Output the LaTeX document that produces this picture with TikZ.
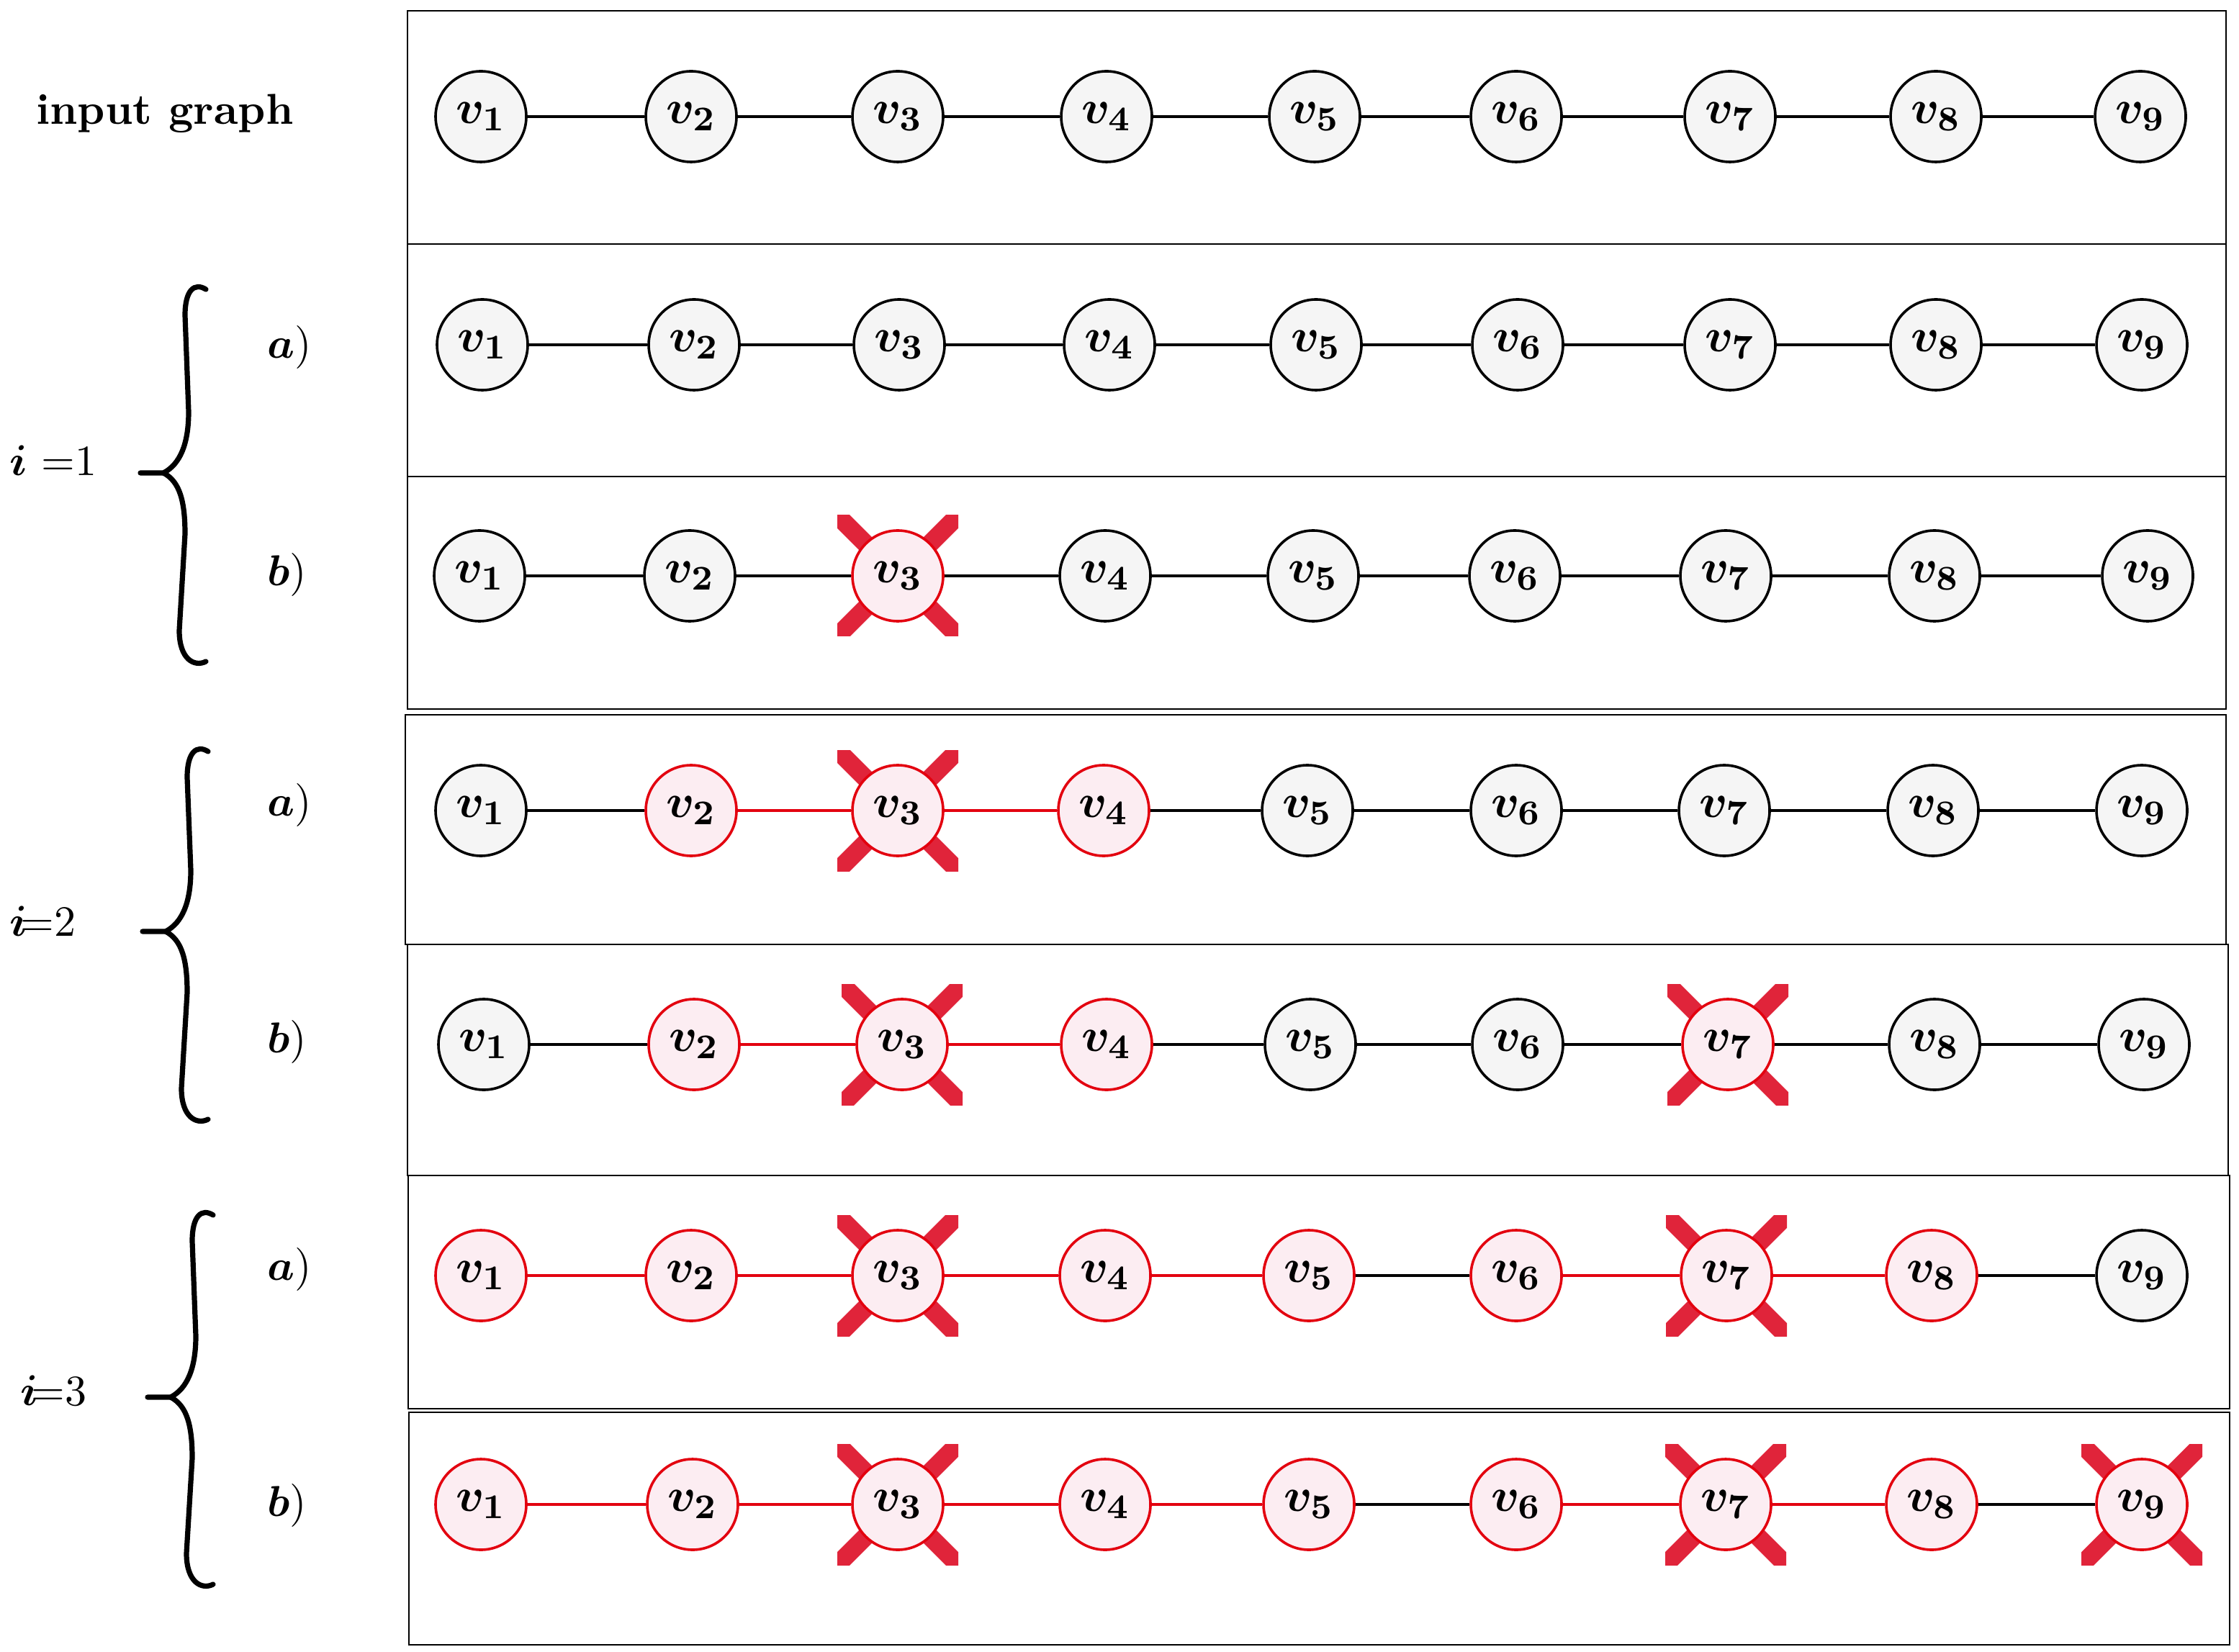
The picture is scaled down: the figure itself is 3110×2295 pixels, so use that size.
\documentclass[tikz,border=0pt]{standalone}
\usepackage{amsmath}
\usepackage{bm}
\usetikzlibrary{backgrounds}
\definecolor{fc0}{HTML}{F5F5F5}
\definecolor{fc1}{HTML}{FCEDF2}
\definecolor{lc0}{HTML}{000000}
\definecolor{lc1}{HTML}{E3000F}
\definecolor{crosscol}{HTML}{E0243A}
\newcommand\graphrow[3]{%
  \foreach \xx/\cc [count=\k] in {#3} {%
    \node[vert, draw=lc\cc, fill=fc\cc] (r#1n\k) at (\xx,#2) {$v_{\k}$};}}
\newcommand\edgerow[2]{%
  \foreach \cc [count=\k] in {#2} {%
    \pgfmathtruncatemacro\kk{\k+1}%
    \draw[edgeline, draw=lc\cc] (r#1n\k) -- (r#1n\kk);}}
\newcommand\xmark[1]{%
  \begin{scope}[shift={(#1.center)}]
    \clip (-84,-84) rectangle (84,84);
    \draw[crossbar] (-95,-95) -- (95,95) (-95,95) -- (95,-95);
  \end{scope}}
\newcommand\bracedraw[4]{% tip x, tip y, top y, bottom y
  \draw[bracestyle] (#1+91,#3+4) .. controls (#1+75,#3-6) and (#1+62,#3+5) .. (#1+62,#3+40)
    -- (#1+67,#2-85) .. controls (#1+67,#2-40) and (#1+55,#2-12) .. (#1+32,#2) -- (#1,#2);
  \draw[bracestyle] (#1+32,#2) .. controls (#1+55,#2+12) and (#1+62,#2+40) .. (#1+62,#2+85)
    -- (#1+54,#4-45) .. controls (#1+54,#4-5) and (#1+75,#4+6) .. (#1+91,#4-2);}
\begin{document}
\begin{tikzpicture}[x=0.16667pt,y=-0.16667pt,
  vert/.style={circle, line width=0.6pt, minimum size=21pt, inner sep=0pt,
    font=\fontsize{11}{13}\selectfont\boldmath},
  edgeline/.style={line width=0.55pt},
  rowbox/.style={draw=black, line width=0.4pt},
  crossbar/.style={draw=crosscol, line width=4.2pt},
  bracestyle/.style={line width=1.2pt, line cap=round},
  lbl/.style={inner sep=0pt, font=\fontsize{10}{12}\selectfont}]
\useasboundingbox (0,0) rectangle (3110,2295);
% frames
\draw[rowbox] (566,15) rectangle (3092,339);
\draw[rowbox] (566,339) rectangle (3092,662);
\draw[rowbox] (566,662) rectangle (3092,985);
\draw[rowbox] (563,993) rectangle (3092,1312);
\draw[rowbox] (566,1312) rectangle (3095,1633);
\draw[rowbox] (567,1633) rectangle (3097,1957);
\draw[rowbox] (568,1962) rectangle (3097,2285);
% rows of vertices
\graphrow{0}{162}{668/0,960/0,1247/0,1537/0,1826/0,2106/0,2403/0,2689/0,2973/0}
\graphrow{1}{479}{670/0,964/0,1249/0,1541/0,1828/0,2108/0,2403/0,2689/0,2975/0}
\graphrow{2}{800}{666/0,958/0,1247/1,1535/0,1824/0,2104/0,2397/0,2687/0,2983/0}
\graphrow{3}{1126}{668/0,960/1,1247/1,1533/1,1816/0,2106/0,2395/0,2685/0,2975/0}
\graphrow{4}{1451}{672/0,964/1,1253/1,1537/1,1820/0,2108/0,2400/1,2687/0,2978/0}
\graphrow{5}{1772}{668/1,960/1,1247/1,1535/1,1818/1,2106/1,2398/1,2683/1,2975/0}
\graphrow{6}{2090}{668/1,962/1,1247/1,1535/1,1818/1,2106/1,2397/1,2683/1,2975/1}
% edges
\edgerow{0}{0,0,0,0,0,0,0,0}
\edgerow{1}{0,0,0,0,0,0,0,0}
\edgerow{2}{0,0,0,0,0,0,0,0}
\edgerow{3}{0,1,1,0,0,0,0,0}
\edgerow{4}{0,1,1,0,0,0,0,0}
\edgerow{5}{1,1,1,1,0,1,1,0}
\edgerow{6}{1,1,1,1,0,1,1,0}
% removal marks
\begin{pgfonlayer}{background}
\xmark{r2n3}
\xmark{r3n3}
\xmark{r4n3}\xmark{r4n7}
\xmark{r5n3}\xmark{r5n7}
\xmark{r6n3}\xmark{r6n7}\xmark{r6n9}
\end{pgfonlayer}
% left labels
\node[lbl, anchor=base] (inp) at (229,173) {\textbf{input graph}};
\node[lbl, anchor=base west] (i1) at (12,661) {$\bm{i}$ $=$1};
\node[lbl, anchor=base west] (i2) at (12,1300) {$\bm{i}$\kern-1.5pt$=$2};
\node[lbl, anchor=base west] (i3) at (27,1952) {$\bm{i}$\kern-1.5pt$=$3};
\node[lbl, anchor=base west] (a1) at (370,498) {$\bm{a}$)};
\node[lbl, anchor=base west] (b1) at (370,814) {$\bm{b}$)};
\node[lbl, anchor=base west] (a2) at (370,1133) {$\bm{a}$)};
\node[lbl, anchor=base west] (b2) at (370,1462) {$\bm{b}$)};
\node[lbl, anchor=base west] (a3) at (370,1778) {$\bm{a}$)};
\node[lbl, anchor=base west] (b3) at (370,2106) {$\bm{b}$)};
% braces
\bracedraw{195}{657}{398}{921}
\bracedraw{198}{1294}{1040}{1557}
\bracedraw{205}{1941}{1684}{2203}
\end{tikzpicture}
\end{document}
